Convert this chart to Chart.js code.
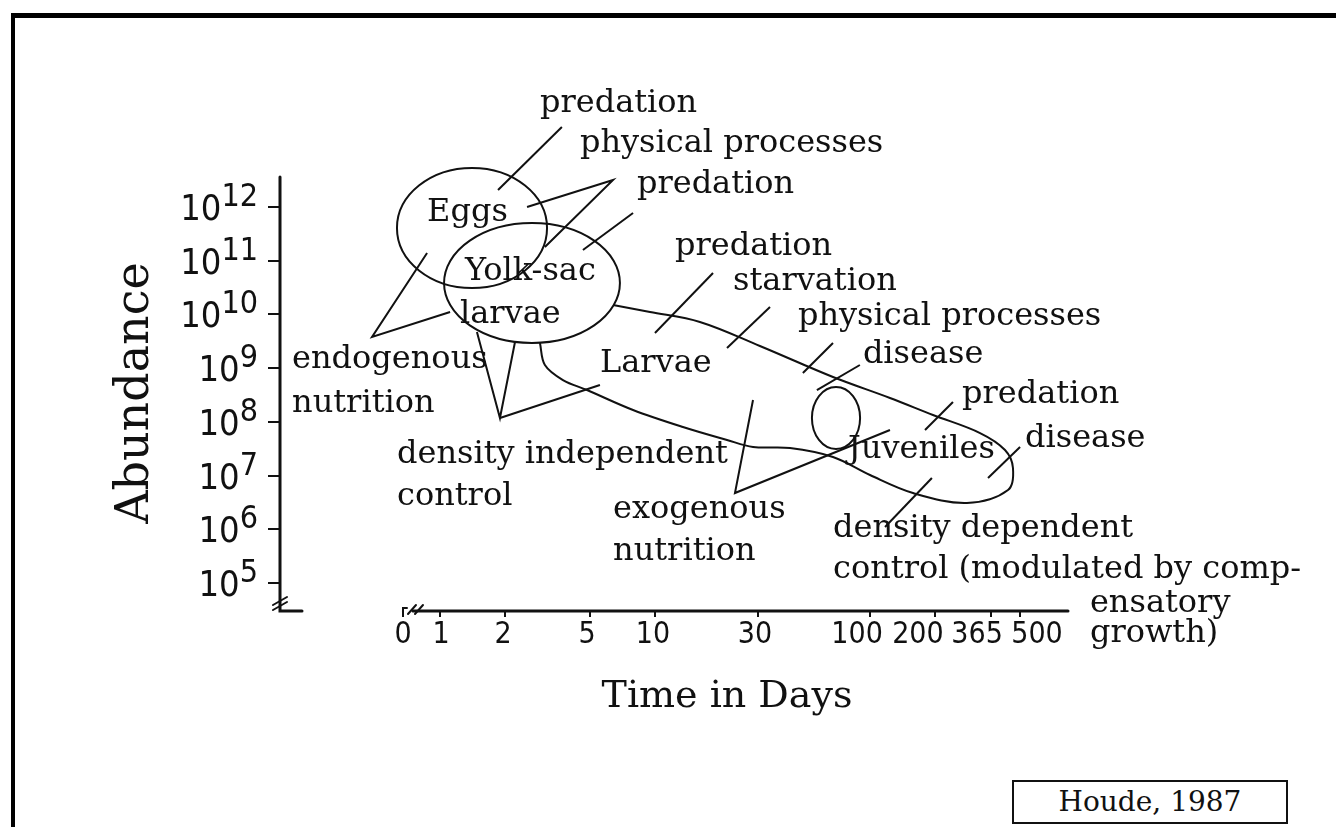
<!DOCTYPE html>
<html>
<head>
<meta charset="utf-8">
<title>Houde 1987 - abundance through early life stages</title>
<script src="https://cdn.jsdelivr.net/npm/chart.js@4.4.1/dist/chart.umd.min.js"></script>
<style>
  html, body { margin: 0; padding: 0; background: #fff; }
  body { width: 1336px; height: 827px; position: relative; overflow: hidden; }
  .frame { position: absolute; left: 11px; top: 13px; width: 1400px; height: 900px;
           border-left: 4px solid #000; border-top: 5px solid #000; }
  .wrap { position: absolute; left: 0; top: 0; width: 1336px; height: 827px; }
  .cite { position: absolute; left: 1012px; top: 780px; width: 272px; height: 40px;
          border: 2px solid #111; background: #fff; color: #111;
          font: 28px 'DejaVu Serif', serif; line-height: 40px; text-align: center; }
</style>
</head>
<body>
<div class="frame"></div>
<div class="wrap"><canvas id="diagram"></canvas></div>
<div class="cite">Houde, 1987</div>
<script>
// axes (x = days, y = abundance, both read as log10 from the figure)
const xTickDays = [0, 1, 2, 5, 10, 30, 100, 200, 365, 500];
const xLabelLog = [-0.172, 0.005, 0.293, 0.684, 0.991, 1.465, 1.940, 2.223, 2.498, 2.777]; // where each label is printed
const xZeroLog = -0.172;            // day 0 sits at the axis break
const xRangeLog = [-0.744, 2.921];
const yTickExp = [5, 6, 7, 8, 9, 10, 11, 12];
const yRangeLog = [4.477, 12.596];

// life stage ellipses: centre and half widths, in decades
const ellipseName = ['Eggs', 'Yolk-sac larvae', 'Juveniles'];
const ellipseX = [0.149, 0.428, 1.842];
const ellipseY = [11.609, 10.585, 8.071];
const ellipseHalfX = [0.349, 0.409, 0.112];
const ellipseHalfY = [1.117, 1.117, 0.577];

// larvae / juveniles outline (open loop that tucks into the yolk-sac ellipse)
const larvaeX = [0.805, 0.977, 1.209, 1.488, 1.828, 2.093, 2.293, 2.512, 2.628, 2.665, 2.642, 2.451,
                 2.200, 2.000, 1.828, 1.628, 1.456, 1.335, 1.130, 0.898, 0.684, 0.572, 0.488, 0.465];
const larvaeY = [10.175, 10.045, 9.858, 9.412, 8.834, 8.443, 8.127, 7.791, 7.475, 7.140, 6.730, 6.488,
                 6.674, 7.009, 7.345, 7.512, 7.531, 7.661, 7.903, 8.220, 8.592, 8.778, 9.058, 9.467];

// leader lines from the labels into the stages
const leaderX = [
  [0.567, 0.270],
  [0.405, 0.805, 0.488],
  [0.665, 0.898],
  [-0.060, -0.316, 0.047],
  [0.172, 0.279, 0.349],
  [0.279, 0.744],
  [1.270, 1.000],
  [1.535, 1.335],
  [1.828, 1.688],
  [1.953, 1.753],
  [2.386, 2.256],
  [2.698, 2.549],
  [1.456, 1.372, 2.093],
  [2.288, 2.070]
];
const leaderY = [
  [13.490, 12.317],
  [12.000, 12.503, 11.255],
  [11.199, 11.888],
  [11.143, 9.579, 10.045],
  [9.672, 8.071, 9.486],
  [8.071, 8.685],
  [10.771, 9.654],
  [10.138, 9.374],
  [9.467, 8.909],
  [9.058, 8.592],
  [8.369, 7.847],
  [7.531, 6.953],
  [8.406, 6.674, 7.847],
  [6.953, 6.041]
];

// text labels (left edge, baseline)
const noteText = ['predation', 'physical processes', 'predation', 'Eggs', 'Yolk-sac', 'larvae',
  'predation', 'starvation', 'physical processes', 'disease', 'Larvae', 'endogenous', 'nutrition',
  'predation', 'disease', 'Juveniles', 'density independent', 'control', 'exogenous', 'nutrition',
  'density dependent', 'control (modulated by comp-', 'ensatory', 'growth)'];
const noteX = [0.465, 0.651, 0.916, -0.060, 0.116, 0.093, 1.093, 1.363, 1.665, 1.967, 0.744, -0.688,
  -0.688, 2.428, 2.721, 1.898, -0.200, -0.200, 0.805, 0.805, 1.828, 1.828, 3.023, 3.023];
const noteY = [13.769, 13.024, 12.261, 11.739, 10.641, 9.840, 11.106, 10.454, 9.803, 9.095, 8.927, 9.002,
  8.182, 8.350, 7.531, 7.326, 7.233, 6.451, 6.209, 5.426, 5.855, 5.091, 4.458, 3.899];

const xTitle = 'Time in Days';
const xTitlePos = [1.335, 2.689];
const yTitle = 'Abundance';

const ink = '#111';
const serif = "'DejaVu Serif', serif";
const narrow = "'Liberation Sans Narrow', 'DejaVu Sans Condensed', 'Liberation Sans', sans-serif";

const toPoints = (xs, ys) => xs.map((v, i) => ({x: 10 ** v, y: 10 ** ys[i]}));

const datasets = leaderX.map((xs, i) => ({
  label: 'leader ' + (i + 1),
  data: toPoints(xs, leaderY[i]),
  borderColor: ink,
  tension: 0
}));
datasets.push({label: 'Larvae', data: toPoints(larvaeX, larvaeY), borderColor: ink, tension: 0.35});

const diagramPlugin = {
  id: 'diagram',
  afterDatasetsDraw(chart) {
    const ctx = chart.ctx;
    const xs = chart.scales.x, ys = chart.scales.y;
    const X = v => xs.getPixelForValue(10 ** v);
    const Y = v => ys.getPixelForValue(10 ** v);
    const area = chart.chartArea;

    ctx.save();
    ctx.strokeStyle = ink;
    ctx.fillStyle = ink;
    ctx.lineCap = 'round';

    // stage ellipses
    ctx.lineWidth = 2;
    ellipseX.forEach((cx, i) => {
      const px = X(cx), py = Y(ellipseY[i]);
      const rx = X(cx + ellipseHalfX[i]) - px;
      const ry = py - Y(ellipseY[i] + ellipseHalfY[i]);
      ctx.beginPath();
      ctx.ellipse(px, py, rx, ry, 0, 0, Math.PI * 2);
      ctx.stroke();
    });

    // broken axes
    ctx.lineWidth = 3;
    const ax = area.left, ab = area.bottom;
    ctx.beginPath();
    ctx.moveTo(ax, area.top + 2);
    ctx.lineTo(ax, ab);
    ctx.lineTo(ax + 22, ab);
    const x0 = X(xZeroLog);
    ctx.moveTo(x0 + 10, ab);
    ctx.lineTo(area.right, ab);
    ctx.stroke();
    ctx.lineWidth = 2;
    ctx.beginPath();
    ctx.moveTo(ax - 7, ab - 6); ctx.lineTo(ax + 7, ab - 14);
    ctx.moveTo(ax - 7, ab - 1); ctx.lineTo(ax + 7, ab - 9);
    ctx.moveTo(x0, ab + 1); ctx.lineTo(x0, ab - 3); ctx.lineTo(x0 + 4, ab - 3);
    ctx.moveTo(x0 + 5, ab + 3); ctx.lineTo(x0 + 13, ab - 6);
    ctx.moveTo(x0 + 12, ab + 3); ctx.lineTo(x0 + 20, ab - 6);
    ctx.stroke();

    // x tick labels
    ctx.font = '30px ' + narrow;
    ctx.textAlign = 'center';
    ctx.textBaseline = 'alphabetic';
    xTickDays.forEach((d, i) => ctx.fillText(String(d), X(xLabelLog[i]), ab + 32));

    // y tick labels 10^n
    ctx.textAlign = 'left';
    const right = ax - 22;
    yTickExp.forEach(e => {
      const y = Y(e);
      ctx.font = '32px ' + narrow;
      const sup = String(e);
      const sw = ctx.measureText(sup).width;
      ctx.fillText(sup, right - sw, y - 1);
      ctx.font = '36px ' + narrow;
      const bw = ctx.measureText('10').width;
      ctx.fillText('10', right - sw - bw, y + 13);
    });

    // notes
    ctx.font = '32px ' + serif;
    noteText.forEach((t, i) => ctx.fillText(t, X(noteX[i]), Y(noteY[i])));

    // x title
    ctx.font = '38px ' + serif;
    ctx.textAlign = 'center';
    ctx.fillText(xTitle, X(xTitlePos[0]), Y(xTitlePos[1]));
    ctx.restore();
  }
};

new Chart(document.getElementById('diagram'), {
  type: 'scatter',
  data: {datasets: datasets},
  options: {
    responsive: true,
    maintainAspectRatio: false,
    animation: false,
    events: [],
    layout: {padding: {left: 0, right: 268, top: 175, bottom: 0}},
    datasets: {
      scatter: {showLine: true, pointRadius: 0, borderWidth: 2, clip: false}
    },
    plugins: {legend: {display: false}, tooltip: {enabled: false}, colors: {enabled: false}},
    scales: {
      x: {
        type: 'logarithmic',
        min: 10 ** xRangeLog[0],
        max: 10 ** xRangeLog[1],
        afterBuildTicks: s => { s.ticks = xTickDays.map(d => ({value: d === 0 ? 10 ** xZeroLog : d})); },
        afterFit: s => { s.height = 216; },
        border: {display: false},
        grid: {drawOnChartArea: false, drawTicks: true, tickLength: 6, color: ink, lineWidth: 2},
        ticks: {display: false}
      },
      y: {
        type: 'logarithmic',
        min: 10 ** yRangeLog[0],
        max: 10 ** yRangeLog[1],
        afterBuildTicks: s => { s.ticks = yTickExp.map(e => ({value: 10 ** e})); },
        afterFit: s => { s.width = 280; },
        border: {display: false},
        grid: {drawOnChartArea: false, drawTicks: true, tickLength: 12, color: ink, lineWidth: 2},
        ticks: {display: false},
        title: {display: true, text: yTitle, color: ink, font: {family: serif, size: 46}, padding: {top: 108}}
      }
    }
  },
  plugins: [diagramPlugin]
});
</script>
</body>
</html>
